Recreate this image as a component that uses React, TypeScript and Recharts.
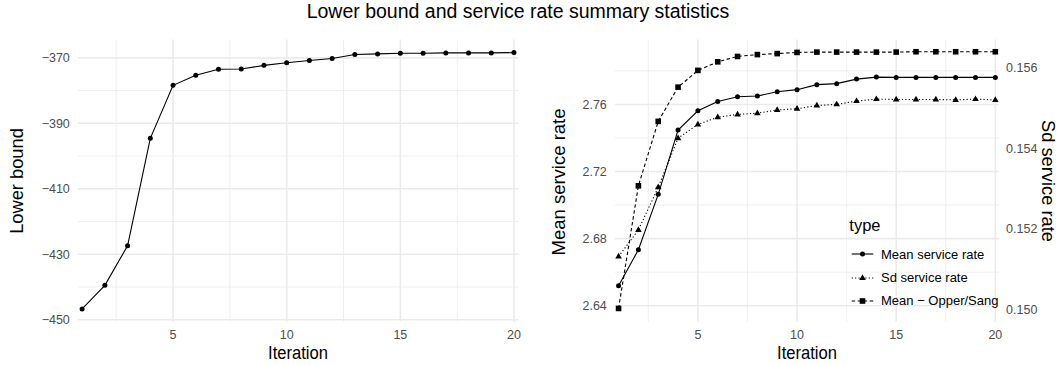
import React from 'react';
import { LineChart, Line, XAxis, YAxis, CartesianGrid, Legend } from 'recharts';

// values
const iterations = [1, 2, 3, 4, 5, 6, 7, 8, 9, 10, 11, 12, 13, 14, 15, 16, 17, 18, 19, 20];

const lowerBound = [
  -446.7, -439.5, -427.4, -394.6, -378.4, -375.3, -373.5, -373.4, -372.3, -371.5,
  -370.8, -370.2, -369.0, -368.8, -368.6, -368.6, -368.5, -368.5, -368.5, -368.4
];

const meanRate = [
  2.6519, 2.6734, 2.7064, 2.7447, 2.7562, 2.7618, 2.7646, 2.765, 2.7676, 2.7688,
  2.7718, 2.7724, 2.7751, 2.7763, 2.7761, 2.7761, 2.7761, 2.7761, 2.7761, 2.7761
];

const sdRate = [
  0.15131, 0.15197, 0.15303, 0.15425, 0.15459, 0.15477, 0.15484, 0.15487, 0.15495, 0.15498,
  0.15506, 0.15509, 0.15517, 0.15522, 0.15521, 0.15521, 0.15521, 0.1552, 0.15522, 0.1552
];

const meanOpperSang = [
  2.6384, 2.7115, 2.7499, 2.7703, 2.7803, 2.7854, 2.7886, 2.7897, 2.7903, 2.791,
  2.7912, 2.7912, 2.7912, 2.7912, 2.7912, 2.7914, 2.7914, 2.7914, 2.7914, 2.7914
];

const xMajor = [5, 10, 15, 20];
const xMinor = [2.5, 7.5, 12.5, 17.5];
const lbMajor = [-450, -430, -410, -390, -370];
const lbMinor = [-440, -420, -400, -380];
const meanMajor = [2.64, 2.68, 2.72, 2.76];
const meanMinor = [2.66, 2.7, 2.74, 2.78];
const sdTicks = [0.15, 0.152, 0.154, 0.156];

const legendItems = [
  { label: 'Mean service rate', dash: undefined, shape: 'circle' },
  { label: 'Sd service rate', dash: '1.2 2.2', shape: 'triangle' },
  { label: 'Mean \u2212 Opper/Sang', dash: '3.5 2.5', shape: 'square' }
];

const lowerTable = iterations.map((it, i) => ({ iteration: it, lowerBound: lowerBound[i] }));
const rateTable = iterations.map((it, i) => ({
  iteration: it,
  mean: meanRate[i],
  sd: sdRate[i],
  opper: meanOpperSang[i]
}));

const FONT = '"Liberation Sans", Arial, Helvetica, sans-serif';
const GRID = '#EBEBEB';
const tickStyle = { fontSize: 12.5, fill: '#4D4D4D' };

const marker = (shape: string, cx: number, cy: number, key?: string) => {
  if (shape === 'square') {
    return <rect key={key} x={cx - 2.8} y={cy - 2.8} width={5.6} height={5.6} fill="#000" />;
  }
  if (shape === 'triangle') {
    return <path key={key} d={`M${cx},${cy - 3.7}L${cx + 3.3},${cy + 2}L${cx - 3.3},${cy + 2}Z`} fill="#000" />;
  }
  return <circle key={key} cx={cx} cy={cy} r={2.5} fill="#000" />;
};

const squareDot = (props: any) => marker('square', props.cx, props.cy, `sq-${props.index}`);
const triangleDot = (props: any) => marker('triangle', props.cx, props.cy, `tr-${props.index}`);

const minus = (v: number) => String(v).replace('-', '\u2212');

const Label = ({ x, y, size, angle = 0, stretch = 1, children }: any) => (
  <div
    style={{
      position: 'absolute',
      left: x,
      top: y,
      fontSize: size,
      lineHeight: 1,
      whiteSpace: 'nowrap',
      color: '#000',
      transform: `translate(-50%, -50%) scale(1, ${stretch}) rotate(${angle}deg)`
    }}
  >
    {children}
  </div>
);

const TypeLegend = () => (
  <div style={{ position: 'relative', width: 160, height: 100, fontFamily: FONT }}>
    <div style={{ position: 'absolute', left: 1.3, top: 3.2, fontSize: 16.5, lineHeight: 1 }}>type</div>
    {legendItems.map((item, i) => {
      const cy = 40.3 + i * 23.3;
      return (
        <React.Fragment key={item.label}>
          <svg style={{ position: 'absolute', left: 2, top: cy - 8 }} width={26} height={16}>
            <line x1={1.7} x2={23.3} y1={8} y2={8} stroke="#000" strokeWidth={1.1} strokeDasharray={item.dash} />
            {marker(item.shape, 12.5, 8)}
          </svg>
          <div style={{ position: 'absolute', left: 33, top: cy - 6.5, fontSize: 13, lineHeight: 1, whiteSpace: 'nowrap' }}>
            {item.label}
          </div>
        </React.Fragment>
      );
    })}
  </div>
);

export default function App() {
  return (
    <div style={{ position: 'absolute', left: 0, top: 0, width: 1061, height: 365, background: '#fff', fontFamily: FONT }}>
      <Label x={518} y={11.5} size={19.5}>Lower bound and service rate summary statistics</Label>

      {/* left panel: lower bound */}
      <div style={{ position: 'absolute', left: 0, top: 0 }}>
        <LineChart width={530} height={365} data={lowerTable} margin={{ top: 39.5, right: 11.7, bottom: 0, left: 0 }}>
          <CartesianGrid horizontalValues={lbMinor} verticalValues={xMinor} stroke={GRID} strokeWidth={0.8} />
          <CartesianGrid horizontalValues={lbMajor} verticalValues={xMajor} stroke={GRID} strokeWidth={1.6} />
          <XAxis
            dataKey="iteration"
            type="number"
            domain={[0.81, 20.19]}
            ticks={xMajor}
            height={43.3}
            axisLine={false}
            tickLine={false}
            tick={tickStyle}
          />
          <YAxis
            type="number"
            domain={[-450.6, -364.4]}
            ticks={lbMajor}
            width={77.8}
            axisLine={false}
            tickLine={false}
            tick={tickStyle}
            tickFormatter={minus}
          />
          <Line
            type="linear"
            dataKey="lowerBound"
            stroke="#000"
            strokeWidth={1.1}
            dot={{ r: 2.5, fill: '#000', stroke: 'none' }}
            isAnimationActive={false}
          />
        </LineChart>
      </div>
      <Label x={17} y={181} size={18.3} angle={-90}>Lower bound</Label>
      <Label x={298} y={353.5} size={16.6} stretch={1.1}>Iteration</Label>

      {/* right panel: service rate */}
      <div style={{ position: 'absolute', left: 530, top: 0 }}>
        <LineChart width={531} height={365} data={rateTable} margin={{ top: 39.5, right: 0, bottom: 0, left: 0 }}>
          <CartesianGrid horizontalValues={meanMinor} verticalValues={xMinor} stroke={GRID} strokeWidth={0.8} />
          <CartesianGrid horizontalValues={meanMajor} verticalValues={xMajor} stroke={GRID} strokeWidth={1.6} />
          <XAxis
            dataKey="iteration"
            type="number"
            domain={[0.81, 20.19]}
            ticks={xMajor}
            height={43.3}
            axisLine={false}
            tickLine={false}
            tick={tickStyle}
          />
          <YAxis
            type="number"
            domain={[2.6305, 2.7987]}
            ticks={meanMajor}
            width={84.8}
            axisLine={false}
            tickLine={false}
            tick={tickStyle}
            tickFormatter={(v: number) => v.toFixed(2)}
          />
          <YAxis
            yAxisId="sd"
            orientation="right"
            type="number"
            domain={[0.149692, 0.1567]}
            ticks={sdTicks}
            width={61.9}
            axisLine={false}
            tickLine={false}
            tickMargin={1}
            tick={tickStyle}
            tickFormatter={(v: number) => v.toFixed(3)}
          />
          <Legend
            layout="vertical"
            align="center"
            verticalAlign="middle"
            content={() => <TypeLegend />}
            wrapperStyle={{ left: 318, top: 214, width: 160, height: 100 }}
          />
          <Line
            type="linear"
            dataKey="mean"
            name="Mean service rate"
            stroke="#000"
            strokeWidth={1.1}
            dot={{ r: 2.5, fill: '#000', stroke: 'none' }}
            isAnimationActive={false}
          />
          <Line
            type="linear"
            dataKey="sd"
            yAxisId="sd"
            name="Sd service rate"
            stroke="#000"
            strokeWidth={1.1}
            strokeDasharray="1.2 2.2"
            dot={triangleDot}
            isAnimationActive={false}
          />
          <Line
            type="linear"
            dataKey="opper"
            name="Mean - Opper/Sang"
            stroke="#000"
            strokeWidth={1.1}
            strokeDasharray="3.5 2.5"
            dot={squareDot}
            isAnimationActive={false}
          />
        </LineChart>
      </div>
      <Label x={558.5} y={182} size={18.5} angle={-90}>Mean service rate</Label>
      <Label x={1047.8} y={180.6} size={18.3} angle={90}>Sd service rate</Label>
      <Label x={807} y={353.5} size={16.6} stretch={1.1}>Iteration</Label>
    </div>
  );
}
